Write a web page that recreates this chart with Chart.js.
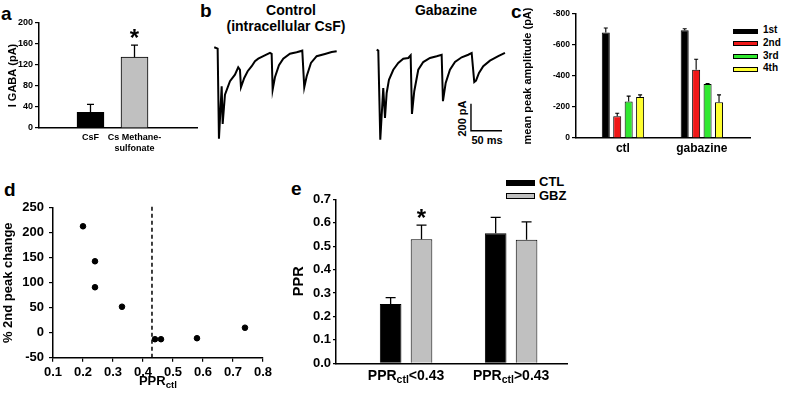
<!DOCTYPE html>
<html>
<head>
<meta charset="utf-8">
<script src="https://cdn.jsdelivr.net/npm/chart.js@4.4.1/dist/chart.umd.min.js"></script>
<style>
  body { margin: 0; background: #fff; }
  #fig { position: relative; width: 785px; height: 405px; overflow: hidden; background: #fff;
         font-family: "Liberation Sans", Arial, sans-serif; font-weight: bold; color: #000; }
  .txt { position: absolute; white-space: nowrap; line-height: 1; }
  .ctr { text-align: center; width: 200px; }
  .sw { position: absolute; box-sizing: border-box; border: 1px solid #000; }
</style>
</head>
<body>
<div id="fig">
  <div class="txt" style="left:1px;top:4px;font-size:19px">a</div>
  <div class="txt" style="left:200px;top:1px;font-size:19px">b</div>
  <div class="txt" style="left:511px;top:2px;font-size:19px">c</div>
  <div class="txt" style="left:4px;top:180px;font-size:19px">d</div>
  <div class="txt" style="left:291px;top:179px;font-size:19px">e</div>

  <div class="txt ctr" style="left:191px;top:3px;font-size:14px">Control</div>
  <div class="txt ctr" style="left:186px;top:19px;font-size:14px">(intracellular CsF)</div>
  <div class="txt ctr" style="left:346px;top:3px;font-size:14px">Gabazine</div>
  <div class="txt ctr" style="left:362px;top:113px;font-size:11px;transform:rotate(-90deg)">200 pA</div>
  <div class="txt ctr" style="left:387px;top:135px;font-size:11px">50 ms</div>
  <div id="legendC"></div>
  <div id="legendE"></div>
</div>
<script>
// ---- panel a: I GABA by intracellular solution
const aLabels = [['CsF'], ['Cs Methane-', 'sulfonate']];
const aValues = [30, 135];
const aErrors = [15, 23];
const aStars = ['', '*'];
const aColors = ['#000000', '#c0c0c0'];
const aTicks = [0, 40, 80, 120, 160, 200];

// ---- panel b: example traces (time in ms, current in pA)
const ctlTime = [6.9, 12.4, 14.5, 18.9, 20.5, 24.2, 32.3, 40.3, 45.6, 48.4, 50.0, 55.3, 60.8, 67.3, 72.6,
  77.9, 86.0, 96.8, 99.5, 101.1, 104.8, 111.3, 118.2, 129.0, 139.8, 148.9, 152.1, 156.0, 162.9, 172.1,
  185.5, 196.3, 204.4];
const ctlCurrent = [5, -5, -671, -283, -562, -346, -246, -198, -143, -161, -291, -222, -172, -135, -98,
  -79, -61, -37, -44, -309, -217, -128, -79, -42, -32, -20, -291, -209, -111, -61,
  -44, -30, -24];
const gbzTime = [268.9, 271.5, 274.7, 279.5, 282.3, 285.0, 288.7, 295.7, 303.7, 311.8, 319.9, 323.7, 325.8,
  329.5, 336.0, 344.0, 354.9, 365.7, 373.7, 375.8, 380.2, 387.1, 395.2, 406.0, 416.6, 422.1, 426.3,
  429.1, 433.9, 440.8, 451.6, 465.0, 475.8];
const gbzCurrent = [-13, -20, -679, -296, -518, -333, -235, -161, -111, -79, -74, -54, -488,
  -320, -161, -104, -74, -61, -50, -394, -259, -161, -104, -69, -50, -37, -252,
  -242, -185, -135, -94, -61, -37];
const scaleBarTime = [421, 421, 471];
const scaleBarCurrent = [-412, -612, -612];

// ---- panel c: mean peak amplitude per pulse
const cGroups = ['ctl', 'gabazine'];
const cSeries = ['1st', '2nd', '3rd', '4th'];
const cColors = ['#000000', '#f01818', '#30e830', '#ffff30'];
const cValues = [[-680, -695], [-140, -440], [-235, -348], [-265, -230]];
const cErrors = [[30, 10], [20, 68], [35, 3], [13, 48]];
const cTicks = [0, -200, -400, -600, -800];

// ---- panel d: % change of 2nd peak vs control PPR
const dPpr = [0.2, 0.24, 0.24, 0.33, 0.44, 0.46, 0.58, 0.74];
const dChange = [213, 143, 91, 52, -13, -13, -11, 10];
const dThreshold = 0.43;
const dXTicks = [0.1, 0.2, 0.3, 0.4, 0.5, 0.6, 0.7, 0.8];
const dYTicks = [-50, 0, 50, 100, 150, 200, 250];

// ---- panel e: PPR split at threshold
const eGroups = ['PPRctl<0.43', 'PPRctl>0.43'];
const eSeries = ['CTL', 'GBZ'];
const eColors = ['#000000', '#c0c0c0'];
const eCtl = [0.253, 0.555];
const eGbz = [0.530, 0.527];
const eCtlErr = [0.027, 0.068];
const eGbzErr = [0.060, 0.077];
const eStars = [['', ''], ['*', '']];
const eTicks = [0, 0.1, 0.2, 0.3, 0.4, 0.5, 0.6, 0.7];

Chart.defaults.font.family = '"Liberation Sans", Arial, sans-serif';
Chart.defaults.font.weight = 'bold';
Chart.defaults.color = '#000';
Chart.defaults.animation = false;
Chart.defaults.responsive = false;
Chart.defaults.plugins.legend.display = false;
Chart.defaults.plugins.tooltip.enabled = false;

const FONT = '"Liberation Sans", Arial, sans-serif';

function makeCanvas(left, top, width, height) {
  const c = document.createElement('canvas');
  c.width = width;
  c.height = height;
  c.style.cssText = `position:absolute;left:${left}px;top:${top}px;width:${width}px;height:${height}px`;
  document.getElementById('fig').appendChild(c);
  return c;
}

// split "PPRctl..." so that "ctl" is drawn as a subscript
function subParts(s) {
  return s.split(/(ctl)/).filter(Boolean).map(t => ({ t, sub: t === 'ctl' }));
}

function drawSubText(ctx, parts, cx, y, size) {
  ctx.save();
  const fonts = parts.map(p => `bold ${p.sub ? size * 0.75 : size}px ${FONT}`);
  let total = 0;
  const widths = parts.map((p, i) => {
    ctx.font = fonts[i];
    const w = ctx.measureText(p.t).width;
    total += w;
    return w;
  });
  let x = cx - total / 2;
  ctx.fillStyle = '#000';
  ctx.textAlign = 'left';
  ctx.textBaseline = 'alphabetic';
  parts.forEach((p, i) => {
    ctx.font = fonts[i];
    ctx.fillText(p.t, x, y + (p.sub ? size * 0.22 : 0));
    x += widths[i];
  });
  ctx.restore();
}

// one-sided error bars (+ optional significance star)
const errorBars = {
  id: 'errorBars',
  afterDatasetsDraw(chart, args, opts) {
    if (!opts.errors) return;
    const ctx = chart.ctx;
    const yScale = chart.scales.y;
    ctx.save();
    ctx.strokeStyle = '#000';
    ctx.fillStyle = '#000';
    ctx.lineWidth = opts.lineWidth || 1.3;
    chart.data.datasets.forEach((ds, di) => {
      const errs = opts.errors[di];
      const stars = opts.stars ? opts.stars[di] : null;
      chart.getDatasetMeta(di).data.forEach((bar, i) => {
        const v = ds.data[i].y;
        const sign = v < 0 ? -1 : 1;
        const top = yScale.getPixelForValue(v + sign * errs[i]);
        ctx.beginPath();
        ctx.moveTo(bar.x, bar.y);
        ctx.lineTo(bar.x, top);
        ctx.moveTo(bar.x - opts.cap / 2, top);
        ctx.lineTo(bar.x + opts.cap / 2, top);
        ctx.stroke();
        if (stars && stars[i]) {
          ctx.font = `bold 24px ${FONT}`;
          ctx.textAlign = 'center';
          ctx.textBaseline = 'alphabetic';
          ctx.fillText(stars[i], bar.x, top + 1);
        }
      });
    });
    ctx.restore();
  }
};

// labels with subscripts, drawn under the x axis
const subLabels = {
  id: 'subLabels',
  afterDraw(chart, args, opts) {
    if (!opts.items) return;
    const area = chart.chartArea;
    opts.items.forEach(item => {
      const x = item.value === undefined ? (area.left + area.right) / 2 + (item.dx || 0)
        : chart.scales.x.getPixelForValue(item.value);
      drawSubText(chart.ctx, subParts(item.text), x, area.bottom + opts.offset, opts.size);
    });
  }
};

function valueAxis(o) {
  return {
    type: 'linear',
    min: o.min,
    max: o.max,
    reverse: !!o.reverse,
    afterFit: s => { s.width = o.width; },
    afterBuildTicks: s => { s.ticks = o.ticks.map(v => ({ value: v })); },
    border: { color: '#000', width: 1.5 },
    grid: { drawOnChartArea: false, color: '#000', lineWidth: 1.2, tickLength: o.tickLength || 4 },
    ticks: { font: { size: o.font }, padding: o.pad, callback: o.fmt || (v => String(v)) },
    title: {
      display: !!o.title,
      text: o.title,
      font: { size: o.titleFont },
      padding: { top: o.titlePad, bottom: 0 }
    }
  };
}

function groupAxis(o) {
  return {
    type: 'linear',
    offset: false,
    min: o.min,
    max: o.max,
    afterFit: s => { s.height = o.height; },
    afterBuildTicks: s => { s.ticks = o.labels.map((l, i) => ({ value: i + 1 })); },
    border: { color: '#000', width: 1.5 },
    grid: { display: false, drawTicks: false },
    ticks: {
      display: o.showLabels !== false,
      font: { size: o.font },
      padding: o.pad,
      maxRotation: 0,
      autoSkip: false,
      callback: (v, i) => o.labels[i]
    }
  };
}

// ---- panel a
new Chart(makeCanvas(0, 15, 200, 150), {
  type: 'bar',
  data: {
    datasets: [{
      data: aValues.map((v, i) => ({ x: i + 1, y: v })),
      backgroundColor: aColors,
      borderColor: '#000',
      borderWidth: 1,
      barThickness: 27
    }]
  },
  options: {
    layout: { padding: { left: 0, top: 8, right: 3, bottom: 0 } },
    scales: {
      x: groupAxis({ min: -0.17, max: 3.42, height: 37, labels: aLabels, font: 9, pad: 4 }),
      y: valueAxis({ min: 0, max: 200, ticks: aTicks, width: 39, font: 9, pad: 2,
        title: 'I GABA (pA)', titleFont: 11, titlePad: 6 })
    },
    plugins: { errorBars: { errors: [aErrors], stars: [aStars], cap: 7 } }
  },
  plugins: [errorBars]
});

// ---- panel b
new Chart(makeCanvas(205, 35, 310, 120), {
  type: 'line',
  data: {
    datasets: [
      { data: ctlTime.map((t, i) => ({ x: t, y: ctlCurrent[i] })) },
      { data: gbzTime.map((t, i) => ({ x: t, y: gbzCurrent[i] })) },
      { data: scaleBarTime.map((t, i) => ({ x: t, y: scaleBarCurrent[i] })), borderWidth: 1.4 }
    ]
  },
  options: {
    layout: { padding: 0 },
    elements: {
      line: { borderColor: '#000', borderWidth: 2, tension: 0, fill: false },
      point: { radius: 0 }
    },
    scales: {
      x: { type: 'linear', display: false, min: -8, max: 492 },
      y: { type: 'linear', display: false, min: -792, max: 96 }
    }
  }
});

// ---- panel c
new Chart(makeCanvas(515, 5, 240, 160), {
  type: 'bar',
  data: {
    datasets: cSeries.map((name, si) => ({
      label: name,
      data: cValues[si].map((v, gi) => ({ x: gi + 1, y: v })),
      backgroundColor: cColors[si],
      borderColor: '#000',
      borderWidth: 1,
      categoryPercentage: 0.58,
      barPercentage: 0.7
    }))
  },
  options: {
    layout: { padding: { left: 0, top: 9, right: 5, bottom: 0 } },
    scales: {
      x: groupAxis({ min: 0.405, max: 2.61, height: 27, labels: cGroups, font: 12, pad: 3 }),
      y: valueAxis({ min: -800, max: 0, reverse: true, ticks: cTicks, width: 61, font: 8.5, pad: 2,
        title: 'mean peak amplitude (pA)', titleFont: 11, titlePad: 6 })
    },
    plugins: { errorBars: { errors: cErrors, cap: 4, lineWidth: 1.1 } }
  },
  plugins: [errorBars]
});

// ---- panel d
new Chart(makeCanvas(0, 195, 275, 205), {
  type: 'scatter',
  data: {
    datasets: [
      {
        data: dPpr.map((x, i) => ({ x, y: dChange[i] })),
        backgroundColor: '#000',
        borderColor: '#000',
        pointRadius: 2.8
      },
      {
        type: 'line',
        data: [{ x: dThreshold, y: dYTicks[0] }, { x: dThreshold, y: dYTicks[dYTicks.length - 1] + 3 }],
        borderColor: '#000',
        borderWidth: 1.5,
        borderDash: [4, 3],
        pointRadius: 0,
        clip: false
      }
    ]
  },
  options: {
    layout: { padding: { left: 0, top: 10, right: 11, bottom: 0 } },
    scales: {
      x: Object.assign(valueAxis({ min: 0.1, max: 0.8, ticks: dXTicks, font: 13, pad: 3,
        fmt: v => v.toFixed(1) }), { afterFit: s => { s.height = 42.3; } }),
      y: valueAxis({ min: -50, max: 250, ticks: dYTicks, width: 53, font: 13, pad: 5,
        title: '% 2nd peak change', titleFont: 13, titlePad: 1 })
    },
    plugins: { subLabels: { items: [{ text: 'PPRctl' }], offset: 27, size: 13 } }
  },
  plugins: [subLabels]
});

// ---- panel e
new Chart(makeCanvas(285, 175, 290, 225), {
  type: 'bar',
  data: {
    datasets: [
      { label: eSeries[0], data: eCtl.map((v, i) => ({ x: i + 1, y: v })), backgroundColor: eColors[0] },
      { label: eSeries[1], data: eGbz.map((v, i) => ({ x: i + 1, y: v })), backgroundColor: eColors[1] }
    ].map(ds => Object.assign(ds, { borderColor: '#000', borderWidth: 1, categoryPercentage: 0.588, barPercentage: 0.7 }))
  },
  options: {
    layout: { padding: { left: 0, top: 24.3, right: 8, bottom: 0 } },
    scales: {
      x: groupAxis({ min: 0.333, max: 2.532, height: 36.7, labels: eGroups, showLabels: false }),
      y: valueAxis({ min: 0, max: 0.7, ticks: eTicks, width: 51, font: 13, pad: 2, tickLength: 3,
        fmt: v => v.toFixed(1), title: 'PPR', titleFont: 14.5, titlePad: 4.8 })
    },
    plugins: {
      errorBars: { errors: [eCtlErr, eGbzErr], stars: eStars, cap: 10 },
      subLabels: { items: eGroups.map((g, i) => ({ text: g, value: i + 1 })), offset: 17, size: 14 }
    }
  },
  plugins: [errorBars, subLabels]
});

// ---- legends
function buildLegend(el, names, colors, o) {
  names.forEach((name, i) => {
    const y = o.top + o.step * i;
    el.insertAdjacentHTML('beforeend',
      `<div class="sw" style="left:${o.left}px;top:${y - o.h / 2}px;width:${o.w}px;height:${o.h}px;background:${colors[i]}"></div>` +
      `<div class="txt" style="left:${o.left + o.w + o.gap}px;top:${y - o.size / 2 - 1}px;font-size:${o.size}px">${name}</div>`);
  });
}
buildLegend(document.getElementById('legendC'), cSeries, cColors, { left: 733, top: 31, step: 12.8, w: 25, h: 5, gap: 5, size: 10 });
buildLegend(document.getElementById('legendE'), eSeries, eColors, { left: 506, top: 182.7, step: 13.6, w: 29, h: 6, gap: 4, size: 13 });
</script>
</body>
</html>
